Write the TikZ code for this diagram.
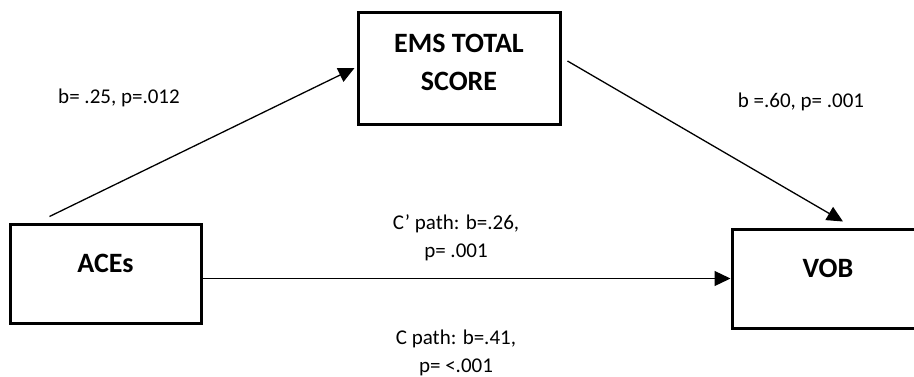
\documentclass[tikz,border=0pt]{standalone}
\usepackage{fontspec}
\setmainfont{Carlito}
\usetikzlibrary{arrows.meta}
\begin{document}
\begin{tikzpicture}[x=1pt, y=-1pt,
    box/.style={draw, line width=3pt, minimum width=191pt, minimum height=99pt, inner sep=0pt},
    boxtext/.style={font=\fontsize{28}{38}\selectfont\bfseries, align=center},
    lbl/.style={font=\fontsize{21}{28}\selectfont, align=center},
    conn/.style={line width=1.3pt, -{Triangle[length=16pt, width=15pt]}}]
    \clip (0, 0) rectangle (914, 376);
    \node [box] (aces) at (105.5, 273.5) {};
    \node [box, minimum width=202pt, minimum height=112pt] (ems) at (459, 68) {};
    \node [box, minimum width=192pt] (vob) at (828, 278.5) {};
    \node [boxtext] (acestext) at ([yshift=10.5pt]aces.center) {ACEs};
    \node [boxtext] (emstext) at ([yshift=6pt]ems.center) {EMS TOTAL\\SCORE};
    \node [boxtext] (vobtext) at ([yshift=10.5pt]vob.center) {VOB};
    \draw [conn] ([shift={(41,-6)}]aces.north west) -- ([xshift=-2pt]ems.west);
    \draw [conn] ([shift={(6,-7)}]ems.east) -- ([shift={(15,-6)}]vob.north);
    \draw [conn] (aces.east |- vob.west) -- (vob.west);
    \node [lbl] (ab) at (119, 98) {b= .25, p=.012};
    \node [lbl] (bb) at (801, 102) {b =.60, p= .001};
    \node [lbl] (cprime) at (456, 237.5) {C’ path: b=.26,\\p= .001};
    \node [lbl] (ctotal) at (456, 352.5) {C path: b=.41,\\p= <.001};
\end{tikzpicture}
\end{document}
